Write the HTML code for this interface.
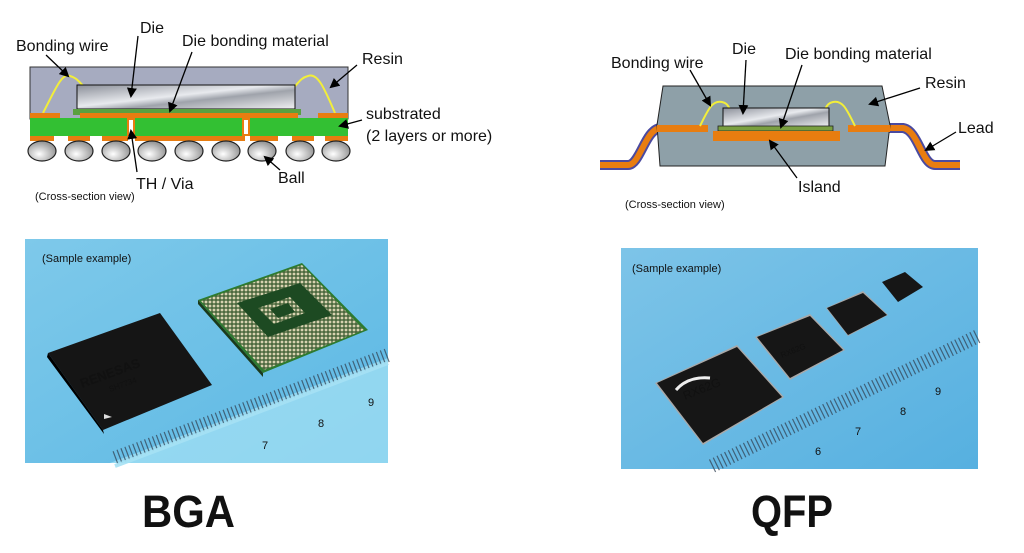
<!DOCTYPE html>
<html><head><meta charset="utf-8"><style>
html,body{margin:0;padding:0;background:#fff;width:1024px;height:553px;overflow:hidden}
svg{display:block}
text{font-family:"Liberation Sans",Arial,sans-serif;fill:#111}
</style></head><body>
<svg width="1024" height="553" viewBox="0 0 1024 553" xmlns="http://www.w3.org/2000/svg">
<defs>
<marker id="ah" markerWidth="10" markerHeight="10" refX="8" refY="5" orient="auto" markerUnits="userSpaceOnUse">
<path d="M0,0 L10,5 L0,10 z" fill="#000"/></marker>
<linearGradient id="die" x1="0" y1="0" x2="1" y2="1">
<stop offset="0" stop-color="#8a8e98"/><stop offset="0.45" stop-color="#e8eaee"/><stop offset="0.6" stop-color="#9fa3ab"/><stop offset="1" stop-color="#f0f0f2"/></linearGradient>
<radialGradient id="ball" cx="0.4" cy="0.65" r="0.6"><stop offset="0" stop-color="#fff"/><stop offset="1" stop-color="#9a9a9a"/></radialGradient>
<linearGradient id="sky" x1="0" y1="0" x2="1" y2="1"><stop offset="0" stop-color="#7ec9ea"/><stop offset="1" stop-color="#5cb8e4"/></linearGradient>
<linearGradient id="sky2" x1="0" y1="0" x2="1" y2="1"><stop offset="0" stop-color="#7dc4e8"/><stop offset="1" stop-color="#56b0e0"/></linearGradient>
<pattern id="dots" width="4" height="4" patternUnits="userSpaceOnUse"><rect width="4" height="4" fill="#4e6a40"/><circle cx="2" cy="2" r="1.4" fill="#d8d2b0"/></pattern>
</defs>

<!-- BGA cross-section -->
<rect x="30" y="67" width="318" height="52" fill="#a6abc0" stroke="#333" stroke-width="1"/>
<path d="M43,113 C55,90 62,72 70,76 C78,78 80,84 86,88" fill="none" stroke="#f2ee3a" stroke-width="2"/>
<path d="M335,113 C325,90 318,72 308,76 C300,78 298,84 293,88" fill="none" stroke="#f2ee3a" stroke-width="2"/>
<rect x="77" y="85" width="218" height="24" fill="url(#die)" stroke="#111" stroke-width="1"/>
<rect x="73" y="109" width="228" height="6" fill="#5aa040"/>
<rect x="30" y="118" width="318" height="18" fill="#33c033"/>
<rect x="30" y="113" width="30" height="5" fill="#e87d10"/>
<rect x="80" y="113" width="218" height="5" fill="#e87d10"/>
<rect x="318" y="113" width="30" height="5" fill="#e87d10"/>
<rect x="127" y="118" width="8" height="18" fill="#e87d10"/><rect x="129" y="120" width="4" height="14" fill="#fff"/>
<rect x="242" y="118" width="8" height="18" fill="#e87d10"/><rect x="244" y="120" width="4" height="14" fill="#fff"/>
<g fill="#e87d10">
<rect x="30" y="136" width="24" height="5"/><rect x="68" y="136" width="22" height="5"/><rect x="102" y="136" width="26" height="5"/><rect x="135" y="136" width="110" height="5"/><rect x="250" y="136" width="28" height="5"/><rect x="292" y="136" width="22" height="5"/><rect x="325" y="136" width="23" height="5"/>
</g>
<g fill="url(#ball)" stroke="#222" stroke-width="1.2">
<ellipse cx="42" cy="151" rx="14" ry="10"/><ellipse cx="79" cy="151" rx="14" ry="10"/><ellipse cx="116" cy="151" rx="14" ry="10"/><ellipse cx="152" cy="151" rx="14" ry="10"/><ellipse cx="189" cy="151" rx="14" ry="10"/><ellipse cx="226" cy="151" rx="14" ry="10"/><ellipse cx="262" cy="151" rx="14" ry="10"/><ellipse cx="300" cy="151" rx="14" ry="10"/><ellipse cx="336" cy="151" rx="14" ry="10"/>
</g>
<g stroke="#000" stroke-width="1.3" marker-end="url(#ah)" fill="none">
<line x1="46" y1="55" x2="68" y2="76"/>
<line x1="138" y1="36" x2="131" y2="96"/>
<line x1="192" y1="52" x2="170" y2="111"/>
<line x1="357" y1="65" x2="331" y2="87"/>
<line x1="362" y1="120" x2="340" y2="126"/>
<line x1="137" y1="172" x2="131" y2="131"/>
<line x1="280" y1="170" x2="265" y2="157"/>
</g>
<g font-size="16">
<text x="16" y="51">Bonding wire</text>
<text x="140" y="33">Die</text>
<text x="182" y="46">Die bonding material</text>
<text x="362" y="64">Resin</text>
<text x="366" y="119">substrated</text>
<text x="366" y="141">(2 layers or more)</text>
<text x="136" y="189">TH / Via</text>
<text x="278" y="183">Ball</text>
</g>
<text x="35" y="200" font-size="11">(Cross-section view)</text>

<!-- QFP cross-section -->
<path d="M600,165 L628,165 C640,165 645,130 660,128 L708,128" fill="none" stroke="#4a4aa0" stroke-width="10"/>
<path d="M600,165 L628,165 C640,165 645,130 660,128 L708,128" fill="none" stroke="#e87d10" stroke-width="6"/>
<path d="M960,165 L935,165 C922,165 918,130 903,128 L848,128" fill="none" stroke="#4a4aa0" stroke-width="10"/>
<path d="M960,165 L935,165 C922,165 918,130 903,128 L848,128" fill="none" stroke="#e87d10" stroke-width="6"/>
<polygon points="663,86 882,86 890,125 885,166 660,166 657,125" fill="#8ea0a8" stroke="#222" stroke-width="1"/>
<rect x="657" y="125" width="51" height="7" fill="#e87d10"/>
<rect x="848" y="125" width="42" height="7" fill="#e87d10"/>
<path d="M700,126 C708,110 712,100 722,102 C727,103 728,106 730,109" fill="none" stroke="#f2ee3a" stroke-width="2"/>
<path d="M855,126 C847,110 843,100 833,102 C828,103 827,106 825,109" fill="none" stroke="#f2ee3a" stroke-width="2"/>
<rect x="723" y="108" width="106" height="19" fill="url(#die)" stroke="#111" stroke-width="1"/>
<rect x="718" y="126" width="115" height="5" fill="#7aa040" stroke="#222" stroke-width="0.8"/>
<rect x="713" y="131" width="127" height="10" fill="#e87d10"/>
<g stroke="#000" stroke-width="1.3" marker-end="url(#ah)" fill="none">
<line x1="690" y1="70" x2="710" y2="105"/>
<line x1="746" y1="60" x2="743" y2="113"/>
<line x1="802" y1="65" x2="781" y2="127"/>
<line x1="920" y1="88" x2="870" y2="104"/>
<line x1="956" y1="132" x2="926" y2="150"/>
<line x1="797" y1="178" x2="770" y2="141"/>
</g>
<g font-size="16">
<text x="611" y="68">Bonding wire</text>
<text x="732" y="54">Die</text>
<text x="785" y="59">Die bonding material</text>
<text x="925" y="88">Resin</text>
<text x="958" y="133">Lead</text>
<text x="798" y="192">Island</text>
</g>
<text x="625" y="208" font-size="11">(Cross-section view)</text>

<!-- BGA photo -->
<rect x="25" y="239" width="363" height="224" fill="url(#sky)"/>
<polygon points="110,463 388,358 388,463" fill="#a6e2f5" opacity="0.7"/>
<line x1="115" y1="458" x2="388" y2="355" stroke="#345" stroke-width="14" stroke-dasharray="1.2 3" opacity="0.75"/>
<line x1="115" y1="458" x2="388" y2="355" stroke="#a6e2f5" stroke-width="4" transform="translate(0,8)" opacity="0.9"/>
<text x="262" y="449" font-size="11" fill="#345">7</text>
<text x="318" y="427" font-size="11" fill="#345">8</text>
<text x="368" y="406" font-size="11" fill="#345">9</text>
<polygon points="48,353 160,313 212,385 103,430" fill="#151515"/>
<polygon points="48,353 103,430 104,434 47,357" fill="#000"/>
<text x="82" y="388" font-size="13" font-weight="bold" fill="#e6e0c8" transform="rotate(-20 82 388)">RENESAS</text>
<text x="110" y="392" font-size="8" fill="#d8d0b8" transform="rotate(-20 110 392)">SH7734</text>
<polygon points="104,414 112,417 104,419" fill="#ddd"/>
<polygon points="198,300 302,263 368,330 263,373" fill="#2e7a30"/>
<polygon points="201,301 302,265 364,330 264,370" fill="url(#dots)"/>
<polygon points="237,303 300,283 332,315 268,337" fill="#1d4a22"/>
<polygon points="258,308 290,297 305,313 274,324" fill="url(#dots)"/>
<polygon points="270,309 288,303 295,312 278,318" fill="#1d4a22"/>
<polygon points="198,300 263,373 263,377 198,304" fill="#1b3a1c"/>
<text x="42" y="262" font-size="11">(Sample example)</text>

<!-- QFP photo -->
<rect x="621" y="248" width="357" height="221" fill="url(#sky2)"/>
<line x1="712" y1="466" x2="978" y2="336" stroke="#345" stroke-width="14" stroke-dasharray="1.2 3" opacity="0.75"/>
<text x="815" y="455" font-size="11" fill="#345">6</text>
<text x="855" y="435" font-size="11" fill="#345">7</text>
<text x="900" y="415" font-size="11" fill="#345">8</text>
<text x="935" y="395" font-size="11" fill="#345">9</text>
<polygon points="655,383 737,345 784,397 703,445" fill="#a8a8a8"/>
<polygon points="657,383 737,347 782,397 703,443" fill="#161616"/>
<polygon points="755,337 810,314 845,350 790,380" fill="#a8a8a8"/>
<polygon points="757,337 810,316 843,350 790,378" fill="#161616"/>
<polygon points="826,308 863,291 888,315 848,336" fill="#a8a8a8"/>
<polygon points="827,308 863,293 887,315 848,335" fill="#161616"/>
<polygon points="882,282 905,272 923,287 898,302" fill="#161616"/>
<path d="M676,390 q12,-14 34,-12" fill="none" stroke="#eee" stroke-width="3"/>
<text x="685" y="400" font-size="12" fill="#e6e6e6" transform="rotate(-22 685 400)">RX62G</text>
<text x="782" y="358" font-size="8" fill="#ddd" transform="rotate(-22 782 358)">RX62G</text>
<text x="632" y="272" font-size="11">(Sample example)</text>

<text x="142" y="527" font-size="45" font-weight="bold" fill="#000" textLength="93" lengthAdjust="spacingAndGlyphs">BGA</text>
<text x="751" y="527" font-size="45" font-weight="bold" fill="#000" textLength="82" lengthAdjust="spacingAndGlyphs">QFP</text>
</svg>
</body></html>
